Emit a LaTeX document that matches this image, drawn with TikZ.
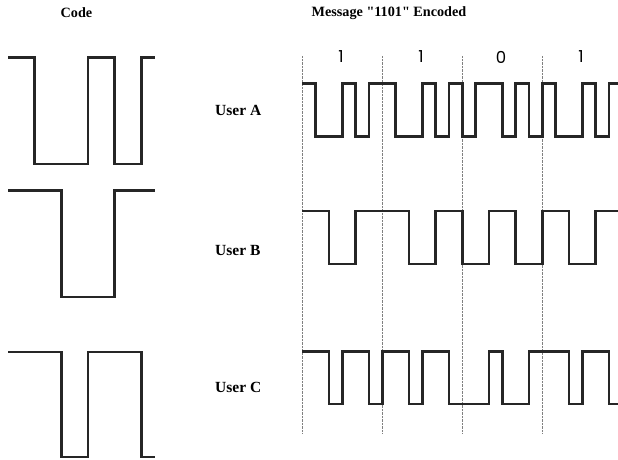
\documentclass[tikz,border=0pt]{standalone}
\usepackage{fontspec}
\setmainfont{Liberation Serif}
\newfontfamily\plainserif{Liberation Serif}
\newfontfamily\digitfont{Poppins}
\begin{document}
\begin{tikzpicture}[x=1pt,y=-1pt,
  sig/.style={line width=2.6pt,line join=miter,color=black!85},
  guide/.style={line width=0.7pt,gray,dash pattern=on 0.7pt off 0.7pt},
  title/.style={font=\plainserif\fontsize{14.2}{16}\selectfont\bfseries,inner sep=0pt},
  user/.style={font=\fontsize{15.5}{18}\selectfont\bfseries,inner sep=0pt,anchor=west},
  digit/.style={font=\digitfont\fontsize{16.5}{18}\selectfont,inner sep=0pt}]
\useasboundingbox (0,0) rectangle (618,459);
\fill[white] (0,0) rectangle (618,459);
% titles
\node[title] (tcode) at (76.5,13) {Code};
\node[title] (tmsg) at (389,13) {Message "1101" Encoded};
% guides
\foreach \i/\x in {1/302.33,2/382.33,3/462.33,4/542.33}
  \draw[guide] (\x,56) -- (\x,433);
% digits
\node[digit] (d1) at (341,57) {1};
\node[digit] (d2) at (421,57) {1};
\node[digit] (d3) at (501,57) {0};
\node[digit] (d4) at (581,57) {1};
% user labels
\node[user] (ua) at (215,110) {User A};
\node[user] (ub) at (215,250) {User B};
\node[user] (uc) at (215,387) {User C};
% codes
\draw[sig] (8,57.3) -| (34.67,164) -| (88,57.3) -| (114.67,164) -| (141.33,57.3) -- (155,57.3);
\draw[sig] (8,190.5) -| (61.33,297) -| (114.67,190.5) -- (155,190.5);
\draw[sig] (8,352) -| (61.33,457) -| (88,352) -| (141.33,457) -- (155,457);
% encoded messages
\begin{scope}
\clip (0,0) rectangle (618,459);
\draw[sig] (302.33,83.3) -| (315.67,136.7) -| (342.33,83.3) -| (355.67,136.7) -| (369,83.3)
  -| (395.67,136.7) -| (422.33,83.3) -| (435.67,136.7) -| (449,83.3) -| (462.33,136.7)
  -| (475.67,83.3) -| (502.33,136.7) -| (515.67,83.3) -| (529,136.7) -| (542.33,83.3)
  -| (555.67,136.7) -| (582.33,83.3) -| (595.67,136.7) -| (609,83.3) -- (622.33,83.3);
\draw[sig] (302.33,211) -| (329,264) -| (355.67,211) -| (409,264) -| (435.67,211)
  -| (462.33,264) -| (489,211) -| (515.67,264) -| (542.33,211) -| (569,264)
  -| (595.67,211) -- (622.33,211);
\draw[sig] (302.33,351.7) -| (329,404) -| (342.33,351.7) -| (369,404) -| (382.33,351.7)
  -| (409,404) -| (422.33,351.7) -| (449,404) -| (489,351.7) -| (502.33,404)
  -| (529,351.7) -| (569,404) -| (582.33,351.7) -| (609,404) -- (622.33,404);
\end{scope}
\end{tikzpicture}
\end{document}
